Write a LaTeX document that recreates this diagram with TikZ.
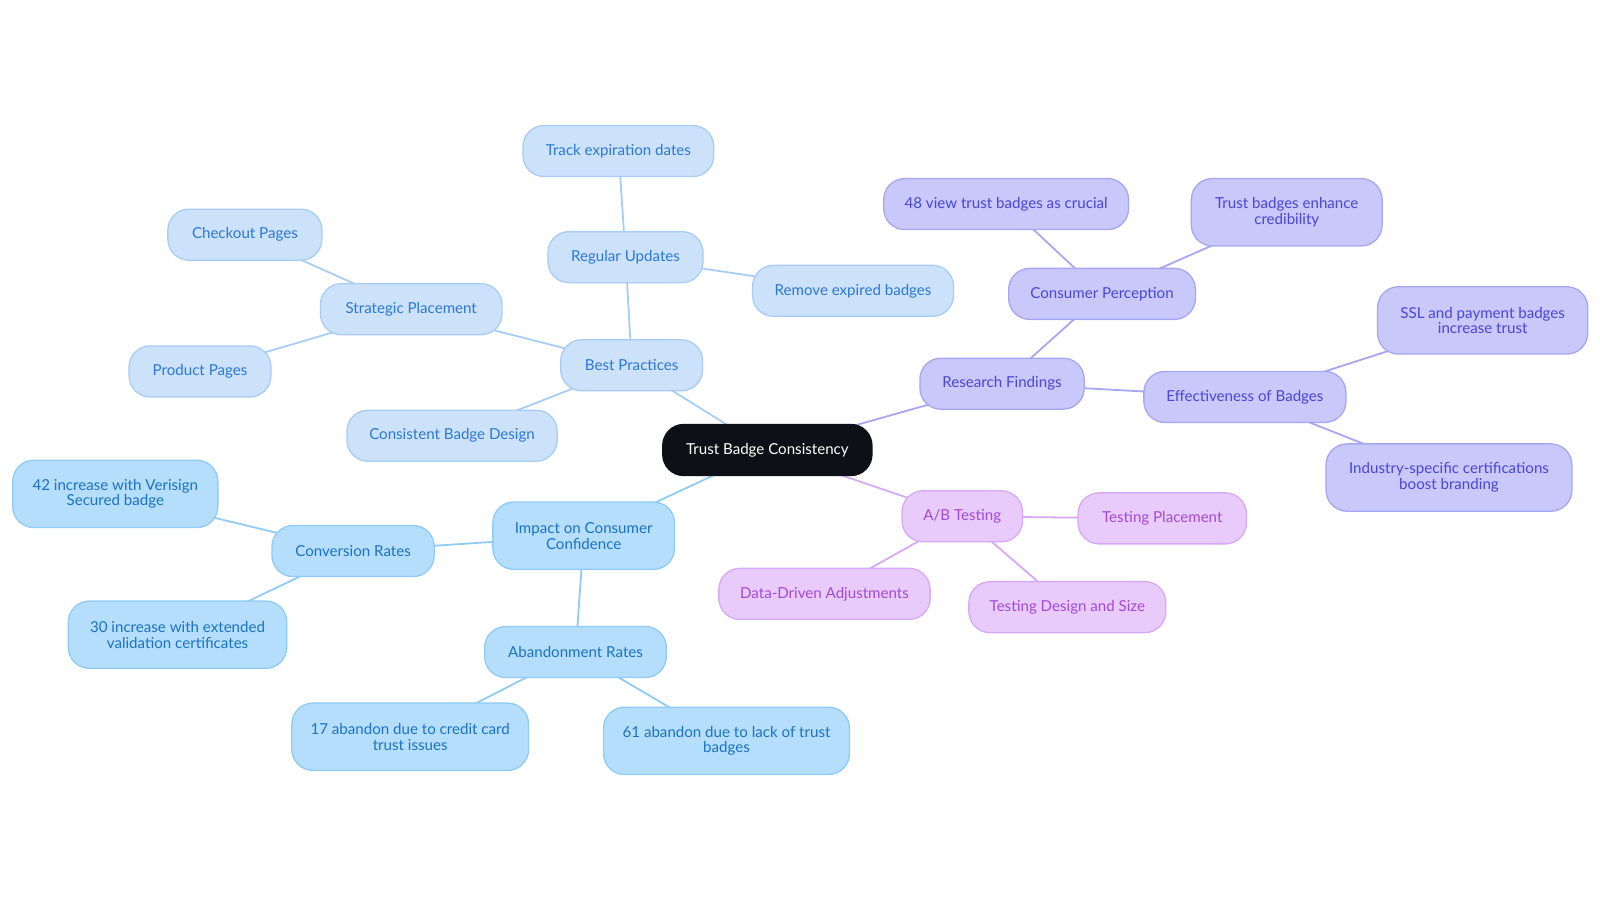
\documentclass[tikz,border=0pt]{standalone}
\usepackage{fontspec}
\setmainfont{Lato}
\usetikzlibrary{backgrounds}
\definecolor{bpfill}{HTML}{CCE2FA}
\definecolor{bpdraw}{HTML}{A8CDF5}
\definecolor{bptext}{HTML}{2B78D6}
\definecolor{imfill}{HTML}{B5DEFC}
\definecolor{imdraw}{HTML}{8FCBF5}
\definecolor{imtext}{HTML}{1A73C4}
\definecolor{rffill}{HTML}{C8C8FA}
\definecolor{rfdraw}{HTML}{A6A6F2}
\definecolor{rftext}{HTML}{4A46D6}
\definecolor{abfill}{HTML}{E8CBFB}
\definecolor{abdraw}{HTML}{D7A8F5}
\definecolor{abtext}{HTML}{A24AD8}
\definecolor{rootfill}{HTML}{0D1117}
\tikzset{
  box/.style={rounded corners=21pt, line width=1.3pt, align=center, inner sep=0pt,
    minimum height=50pt, font=\fontsize{14.8}{15.5}\selectfont},
  bp/.style={box, fill=bpfill, draw=bpdraw, text=bptext},
  im/.style={box, fill=imfill, draw=imdraw, text=imtext},
  rf/.style={box, fill=rffill, draw=rfdraw, text=rftext},
  ab/.style={box, fill=abfill, draw=abdraw, text=abtext},
  rootbox/.style={box, fill=rootfill, draw=rootfill, text=white},
  tall/.style={minimum height=66pt},
  bpline/.style={draw=bpdraw, line width=1.8pt},
  imline/.style={draw=imdraw, line width=1.8pt},
  rfline/.style={draw=rfdraw, line width=1.8pt},
  abline/.style={draw=abdraw, line width=1.8pt},
}
\begin{document}
\begin{tikzpicture}[x=1pt,y=-1pt,scale=1.0204,transform shape]
\useasboundingbox (0,0) rectangle (1568,885);
% root
\node[rootbox, minimum width=205pt] (root) at (752,441) {Trust Badge Consistency};
% best practices branch
\node[bp, minimum width=139pt] (bp) at (619,358) {Best Practices};
\node[bp, minimum width=187pt] (track) at (606,148) {Track expiration dates};
\node[bp, minimum width=152pt] (reg) at (613,252) {Regular Updates};
\node[bp, minimum width=197pt] (remove) at (836,285) {Remove expired badges};
\node[bp, minimum width=178pt] (strat) at (403,303) {Strategic Placement};
\node[bp, minimum width=151pt] (checkout) at (240,230) {Checkout Pages};
\node[bp, minimum width=139pt] (product) at (196,364) {Product Pages};
\node[bp, minimum width=206pt] (design) at (443,427) {Consistent Badge Design};
% impact branch
\node[im, tall, minimum width=178pt] (impact) at (572,525) {Impact on Consumer\\Confidence};
\node[im, minimum width=159pt] (conv) at (346,540) {Conversion Rates};
\node[im, tall, minimum width=201pt] (c42) at (113,484) {42 increase with Verisign\\Secured badge};
\node[im, tall, minimum width=214pt] (c30) at (174,622) {30 increase with extended\\validation certificates};
\node[im, minimum width=178pt] (aband) at (564,639) {Abandonment Rates};
\node[im, tall, minimum width=232pt] (a17) at (402,722) {17 abandon due to credit card\\trust issues};
\node[im, tall, minimum width=241pt] (a61) at (712,726) {61 abandon due to lack of trust\\badges};
% research branch
\node[rf, minimum width=161pt] (res) at (982,376) {Research Findings};
\node[rf, minimum width=183pt] (cons) at (1080,288) {Consumer Perception};
\node[rf, minimum width=240pt] (v48) at (986,200) {48 view trust badges as crucial};
\node[rf, tall, minimum width=187pt] (cred) at (1261,208) {Trust badges enhance\\credibility};
\node[rf, minimum width=198pt] (eff) at (1220,389) {Effectiveness of Badges};
\node[rf, tall, minimum width=206pt] (ssl) at (1453,314) {SSL and payment badges\\increase trust};
\node[rf, tall, minimum width=241pt] (ind) at (1420,468) {Industry-specific certifications\\boost branding};
% ab branch
\node[ab, minimum width=118pt] (abt) at (943,506) {A/B Testing};
\node[ab, minimum width=165pt] (tplace) at (1139,508) {Testing Placement};
\node[ab, minimum width=207pt] (ddadj) at (808,582) {Data-Driven Adjustments};
\node[ab, minimum width=193pt] (tdes) at (1046,595) {Testing Design and Size};
\begin{scope}[on background layer]
\draw[bpline] (root.center) -- (bp.center);
\draw[bpline] (bp.center) -- (reg.center);
\draw[bpline] (reg.center) -- (track.center);
\draw[bpline] (reg.center) -- (remove.center);
\draw[bpline] (bp.center) -- (strat.center);
\draw[bpline] (strat.center) -- (checkout.center);
\draw[bpline] (strat.center) -- (product.center);
\draw[bpline] (bp.center) -- (design.center);
\draw[imline] (root.center) -- (impact.center);
\draw[imline] (impact.center) -- (conv.center);
\draw[imline] (conv.center) -- (c42.center);
\draw[imline] (conv.center) -- (c30.center);
\draw[imline] (impact.center) -- (aband.center);
\draw[imline] (aband.center) -- (a17.center);
\draw[imline] (aband.center) -- (a61.center);
\draw[rfline] (root.center) -- (res.center);
\draw[rfline] (res.center) -- (cons.center);
\draw[rfline] (cons.center) -- (v48.center);
\draw[rfline] (cons.center) -- (cred.center);
\draw[rfline] (res.center) -- (eff.center);
\draw[rfline] (eff.center) -- (ssl.center);
\draw[rfline] (eff.center) -- (ind.center);
\draw[abline] (root.center) -- (abt.center);
\draw[abline] (abt.center) -- (tplace.center);
\draw[abline] (abt.center) -- (ddadj.center);
\draw[abline] (abt.center) -- (tdes.center);
\end{scope}
\end{tikzpicture}
\end{document}
